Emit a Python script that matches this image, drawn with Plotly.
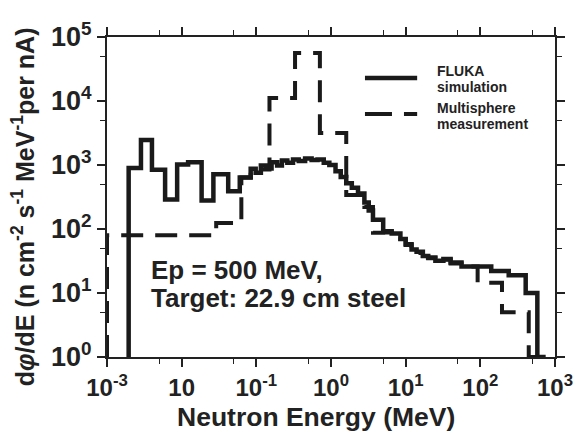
import plotly.graph_objects as go

# ---- data ----
fluka_edges = [0.00195, 0.00285, 0.0040, 0.0060, 0.0087, 0.0122, 0.0185, 0.0266, 0.042, 0.060,
               0.084, 0.098, 0.115, 0.135, 0.16, 0.19, 0.22, 0.26, 0.31, 0.37, 0.45, 0.55, 0.66,
               0.80, 0.95, 1.15, 1.35, 1.6, 1.9, 2.3, 2.8, 3.2, 3.65, 5.0, 6.5, 8.5, 10, 12, 14,
               17, 20, 25, 32, 40, 56, 140, 240, 405, 580]
fluka_values = [900, 2450, 840, 290, 1020, 1100, 280, 720, 390, 640, 870, 760, 980, 880, 1100,
                980, 1180, 1080, 1220, 1150, 1260, 1200, 1220, 1080, 1000, 800, 650, 520, 440,
                360, 260, 195, 140, 92, 85, 70, 58, 48, 44, 38, 36, 32, 34, 30, 26, 22, 19, 10]

meas_edges = [0.001, 0.029, 0.063, 0.084, 0.15, 0.33, 0.71, 1.6, 2.8, 3.65, 5.0, 8.5, 10, 12,
              14, 17, 20, 25, 32, 40, 56, 92, 195, 445]
meas_values = [80, 124, 640, 850, 11100, 56000, 3160, 340, 220, 87, 88, 70, 56, 47, 42, 38, 35,
               32, 33, 29, 26, 14.5, 5]

floor_value = 1.0
end_energy = 750

x_tickvals = [1e-3, 1e-2, 1e-1, 1, 10, 100, 1000]
x_ticktext = ["<b>10<sup>-3</sup></b>", "<b>10</b>", "<b>10<sup>-1</sup></b>", "<b>10<sup>0</sup></b>",
              "<b>10<sup>1</sup></b>", "<b>10<sup>2</sup></b>", "<b>10<sup>3</sup></b>"]
y_tickvals = [1, 10, 100, 1e3, 1e4, 1e5]
y_ticktext = ["<b>10<sup>0</sup></b>", "<b>10<sup>1</sup></b>", "<b>10<sup>2</sup></b>",
              "<b>10<sup>3</sup></b>", "<b>10<sup>4</sup></b>", "<b>10<sup>5</sup></b>"]
x_minor = [5e-3, 5e-2, 5e-1, 5, 50, 500]
y_minor = [5, 50, 500, 5e3, 5e4]


def step_xy(edges, values):
    xs = [edges[0]] + edges[:-1] + [edges[-1], end_energy]
    ys = [floor_value] + values + [floor_value, floor_value]
    return xs, ys


FONT = "Liberation Sans, Arial, sans-serif"
fig = go.Figure()

xf, yf = step_xy(fluka_edges, fluka_values)
xm, ym = step_xy(meas_edges, meas_values)

fig.add_trace(go.Scatter(x=xm, y=ym, mode="lines", line_shape="hv",
                         line=dict(color="#1a1a1a", width=4, dash="22px,12px"),
                         name="Multisphere measurement", showlegend=False))
fig.add_trace(go.Scatter(x=xf, y=yf, mode="lines", line_shape="hv",
                         line=dict(color="#1a1a1a", width=4.5),
                         name="FLUKA simulation", showlegend=False))

axis_common = dict(type="log", showline=True, linecolor="#222", linewidth=2, mirror="ticks",
                   ticks="outside", ticklen=8, tickwidth=1.5, tickcolor="#222",
                   showgrid=False, zeroline=False)

fig.update_xaxes(range=[-3, 3], tickvals=x_tickvals, ticktext=x_ticktext,
                 tickfont=dict(family=FONT, size=24, color="#222"),
                 minor=dict(tickvals=x_minor, ticks="outside", ticklen=5, tickwidth=1.2,
                            tickcolor="#222"),
                 **axis_common)
fig.update_yaxes(range=[0, 5], tickvals=y_tickvals, ticktext=y_ticktext,
                 tickfont=dict(family=FONT, size=27, color="#222"),
                 minor=dict(tickvals=y_minor, ticks="outside", ticklen=5, tickwidth=1.2,
                            tickcolor="#222"),
                 **axis_common)

# legend (drawn manually)
W = 455.0
H = 320.0
def px(x):
    return (x - 107) / W
def py(y):
    return (357 - y) / H

fig.add_shape(type="line", xref="paper", yref="paper", x0=px(369), x1=px(422), y0=py(78), y1=py(78),
              line=dict(color="#1a1a1a", width=4.5))
fig.add_shape(type="line", xref="paper", yref="paper", x0=px(369), x1=px(422), y0=py(114), y1=py(114),
              line=dict(color="#1a1a1a", width=4, dash="27px,12px"))

LEG = dict(family=FONT, size=14, color="#222")
annotations = [
    dict(text="<b>FLUKA</b>", x=px(440), y=py(71), xanchor="left", yanchor="middle", font=LEG),
    dict(text="<b>simulation</b>", x=px(440), y=py(87), xanchor="left", yanchor="middle", font=LEG),
    dict(text="<b>Multisphere</b>", x=px(440), y=py(108), xanchor="left", yanchor="middle", font=LEG),
    dict(text="<b>measurement</b>", x=px(440), y=py(124), xanchor="left", yanchor="middle", font=LEG),
    dict(text="<b>Ep = 500 MeV,</b>", x=px(150), y=py(270), xanchor="left",
         yanchor="middle", font=dict(family=FONT, size=26, color="#222")),
    dict(text="<b>Target: 22.9 cm steel</b>", x=px(150), y=py(298), xanchor="left",
         yanchor="middle", font=dict(family=FONT, size=26, color="#222")),
    dict(text="<b>Neutron Energy (MeV)</b>", x=px(319), y=py(417), xanchor="center", yanchor="middle",
         font=dict(family=FONT, size=26.5, color="#222")),
    dict(text="<b>d<i>φ</i>/dE (n cm<sup>-2</sup> s<sup>-1</sup> MeV<sup>-1</sup>per nA)</b>",
         x=px(22), y=py(207), xanchor="center", yanchor="middle", textangle=-90,
         font=dict(family=FONT, size=25, color="#222")),
]
for a in annotations:
    a.update(xref="paper", yref="paper", showarrow=False)
fig.update_layout(annotations=annotations)

fig.update_layout(width=585, height=434, margin=dict(l=107, r=23, t=37, b=77),
                  plot_bgcolor="white", paper_bgcolor="white", showlegend=False,
                  font=dict(family=FONT, color="#222"))

fig.write_html("out.html")
